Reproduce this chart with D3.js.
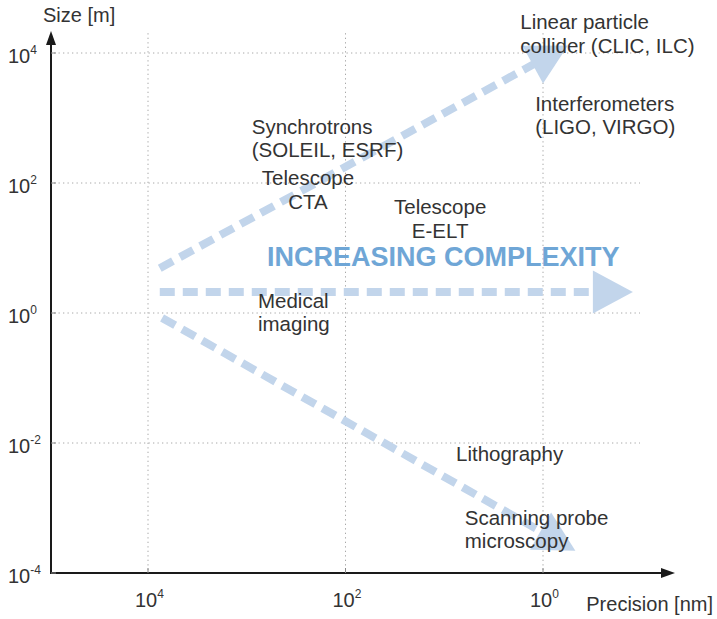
<!DOCTYPE html>
<html>
<head>
<meta charset="utf-8">
<script src="https://d3js.org/d3.v7.min.js"></script>
<style>
  body { margin: 0; background: #fff; }
  text { font-family: "Liberation Sans", Arial, sans-serif; }
</style>
</head>
<body>
<div id="chart"></div>
<script>
// tick values (precision in nm, size in m)
var xTicks = [1e4, 1e2, 1e0];
var yTicks = [1e4, 1e2, 1e0, 1e-2, 1e-4];

// application labels: precision [nm], size [m] of first line
var apps = [
  { lines: ["Linear particle", "collider (CLIC, ILC)"], precision: 1.7, size: 2.3e4, anchor: "start" },
  { lines: ["Interferometers", "(LIGO, VIRGO)"], precision: 1.2, size: 1.3e3, anchor: "start" },
  { lines: ["Synchrotrons", "(SOLEIL, ESRF)"], precision: 890, size: 570, anchor: "start" },
  { lines: ["Telescope", "CTA"], precision: 240, size: 93, anchor: "middle" },
  { lines: ["Telescope", "E-ELT"], precision: 11, size: 33, anchor: "middle" },
  { lines: ["Medical", "imaging"], precision: 770, size: 1.2, anchor: "start" },
  { lines: ["Lithography"], precision: 7.6, size: 5.3e-3, anchor: "start" },
  { lines: ["Scanning probe", "microscopy"], precision: 6.2, size: 5.5e-4, anchor: "start" }
];

// trend arrows: start and tip, in data units
var trends = [
  { from: [7.6e3, 4.9], to: [0.56, 1.3e4] },
  { from: [7.6e3, 2.1], to: [0.123, 2.1] },
  { from: [7.2e3, 0.84], to: [0.47, 2.2e-4] }
];

var W = 717, H = 619;
var svg = d3.select("#chart").append("svg").attr("width", W).attr("height", H);

var x = d3.scaleLog().domain([1e4, 1]).range([148, 543]);
var y = d3.scaleLog().domain([1e-4, 1e4]).range([573, 53]);

var x0 = 51, y0 = y(1e-4);
var gridRight = 640, gridTop = 30;

// dotted grid
svg.selectAll(".hgrid").data(yTicks.filter(function(d) { return d > 1e-4; }))
  .enter().append("line")
  .attr("x1", x0 + 3).attr("x2", gridRight)
  .attr("y1", function(d) { return y(d); }).attr("y2", function(d) { return y(d); })
  .attr("stroke", "#a8a8a8").attr("stroke-width", 1).attr("stroke-dasharray", "1.3,3.2");

svg.selectAll(".vgrid").data(xTicks)
  .enter().append("line")
  .attr("y1", y0 - 3).attr("y2", gridTop)
  .attr("x1", function(d) { return x(d); }).attr("x2", function(d) { return x(d); })
  .attr("stroke", "#a8a8a8").attr("stroke-width", 1).attr("stroke-dasharray", "1.3,3.2");

// trend arrows
var arrowCol = "#c2d5eb";
trends.forEach(function(t) {
  var sx = x(t.from[0]), sy = y(t.from[1]);
  var tx = x(t.to[0]), ty = y(t.to[1]);
  var dx = tx - sx, dy = ty - sy, len = Math.sqrt(dx * dx + dy * dy);
  var ux = dx / len, uy = dy / len;
  var headLen = 40, headW = 43;
  var bx = tx - ux * headLen, by = ty - uy * headLen;
  svg.append("line")
    .attr("x1", sx).attr("y1", sy).attr("x2", bx + ux * 4).attr("y2", by + uy * 4)
    .attr("stroke", arrowCol).attr("stroke-width", 8)
    .attr("stroke-dasharray", "15,8");
  var px = -uy * headW / 2, py = ux * headW / 2;
  svg.append("path")
    .attr("d", "M" + (bx + px) + "," + (by + py) + "L" + tx + "," + ty + "L" + (bx - px) + "," + (by - py) + "Z")
    .attr("fill", arrowCol);
});

// axes
svg.append("line").attr("x1", x0).attr("x2", x0).attr("y1", y0 + 1).attr("y2", 42)
  .attr("stroke", "#1a1a1a").attr("stroke-width", 2);
svg.append("path").attr("d", "M" + (x0 - 5) + ",45L" + x0 + ",31L" + (x0 + 5) + ",45Z").attr("fill", "#1a1a1a");
svg.append("line").attr("x1", x0 - 1).attr("x2", 664).attr("y1", y0).attr("y2", y0)
  .attr("stroke", "#1a1a1a").attr("stroke-width", 2);
svg.append("path").attr("d", "M661," + (y0 - 5) + "L675," + y0 + "L661," + (y0 + 5) + "Z").attr("fill", "#1a1a1a");

// tick marks
svg.selectAll(".xt").data(xTicks).enter().append("line")
  .attr("x1", function(d) { return x(d); }).attr("x2", function(d) { return x(d); })
  .attr("y1", y0).attr("y2", y0 - 5).attr("stroke", "#888");
svg.selectAll(".yt").data(yTicks).enter().append("line")
  .attr("y1", function(d) { return y(d); }).attr("y2", function(d) { return y(d); })
  .attr("x1", x0).attr("x2", x0 + 5).attr("stroke", "#888");

function expLabel(sel) {
  sel.append("tspan").text("10");
  sel.append("tspan").attr("dy", -9).attr("font-size", 12)
    .text(function(d) { return String(Math.round(Math.log10(d))); });
}

svg.selectAll(".yl").data(yTicks).enter().append("text")
  .attr("x", 8).attr("y", function(d) { return y(d) + 10; })
  .attr("font-size", 20).attr("fill", "#333")
  .call(expLabel);

svg.selectAll(".xl").data(xTicks).enter().append("text")
  .attr("x", function(d) { return x(d) - 13; }).attr("y", y0 + 34)
  .attr("font-size", 20).attr("fill", "#333")
  .call(expLabel);

svg.append("text").attr("x", 43).attr("y", 22).attr("font-size", 20).attr("fill", "#333").text("Size [m]");
svg.append("text").attr("x", 713).attr("y", 611).attr("text-anchor", "end")
  .attr("font-size", 20).attr("fill", "#333").text("Precision [nm]");

// application labels
apps.forEach(function(a) {
  var t = svg.append("text")
    .attr("x", x(a.precision)).attr("y", y(a.size))
    .attr("text-anchor", a.anchor)
    .attr("font-size", 20.5).attr("fill", "#333");
  a.lines.forEach(function(l, i) {
    t.append("tspan").attr("x", x(a.precision)).attr("dy", i === 0 ? 0 : 23.5).text(l);
  });
});

svg.append("text").attr("x", 267).attr("y", 266)
  .attr("font-size", 27).attr("font-weight", "bold").attr("fill", "#6fa6d6")
  .text("INCREASING COMPLEXITY");
</script>
</body>
</html>
